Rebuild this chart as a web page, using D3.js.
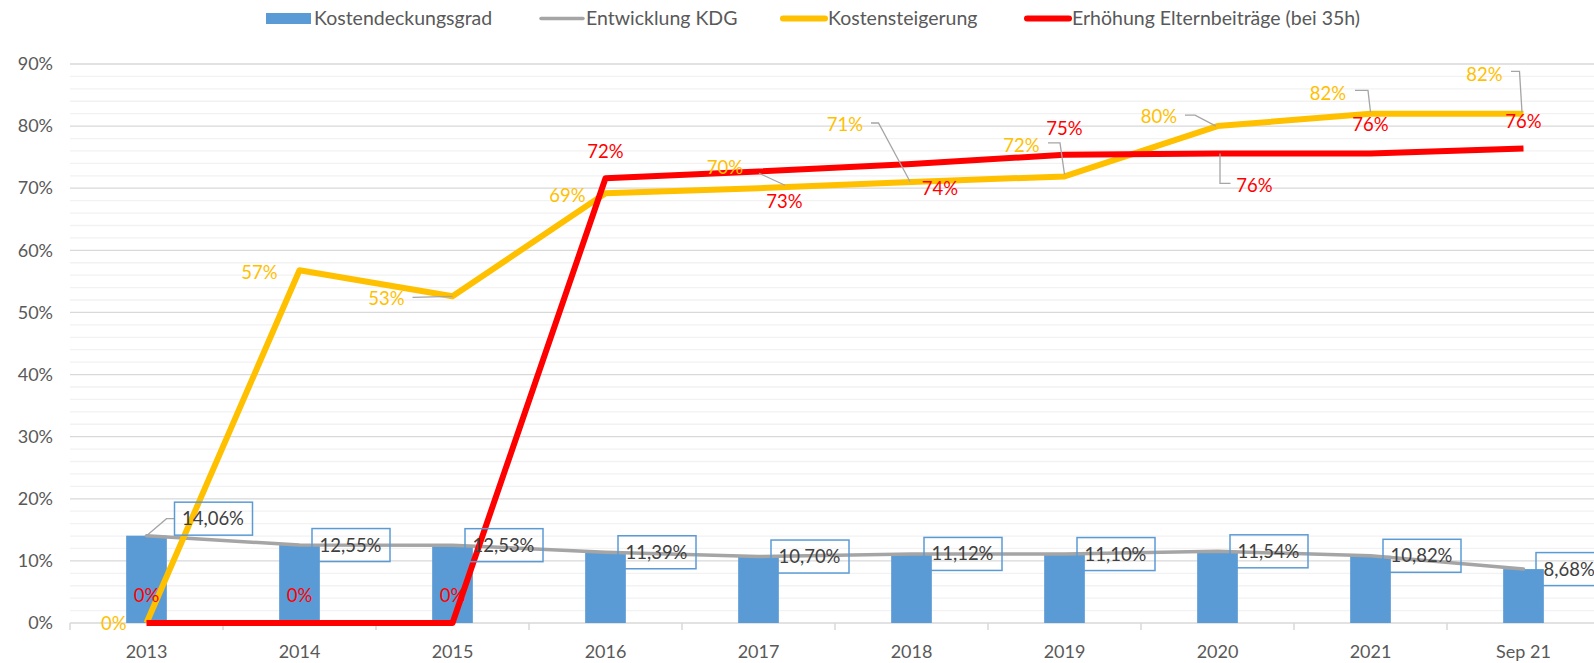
<!DOCTYPE html>
<meta charset="utf-8">
<script src="https://d3js.org/d3.v7.min.js"></script>
<style>
  body { margin: 0; background: #fff; }
  text { font-family: Lato, "Open Sans", sans-serif; }
</style>
<div id="chart"></div>
<script>
// Data
var categories = ["2013", "2014", "2015", "2016", "2017", "2018", "2019", "2020", "2021", "Sep 21"];
var kostendeckungsgrad = [14.06, 12.55, 12.53, 11.39, 10.70, 11.12, 11.10, 11.54, 10.82, 8.68];
var kostensteigerung = [0, 56.8, 52.6, 69.2, 70.0, 71.0, 71.9, 80.0, 82.0, 82.0];
var elternbeitraege = [0, 0, 0, 71.6, 72.7, 73.9, 75.4, 75.6, 75.6, 76.4];
var yTicks = [0, 10, 20, 30, 40, 50, 60, 70, 80, 90];
var seriesNames = ["Kostendeckungsgrad", "Entwicklung KDG", "Kostensteigerung", "Erhöhung Elternbeiträge (bei 35h)"];

// label placement (offsets from the point, px)
var yellowLabelPos = [
  {dx: -20, dy: 1}, {dx: -22, dy: 2}, {dx: -48, dy: 2, leader: [[-40, 1], [0, 0]]},
  {dx: -20, dy: 2}, {dx: -15.5, dy: -21, leader: [[0.5, -15], [26.5, -3]]},
  {dx: -48.5, dy: -57, leader: [[-40.5, -59], [-33, -59], [-1.5, -0.5]]},
  {dx: -25, dy: -31, leader: [[-16.5, -33.5], [-4.5, -33.5], [0, -2]]},
  {dx: -40.5, dy: -9.5, leader: [[-32.5, -11], [-22.5, -11], [-1.5, 0]]},
  {dx: -24.5, dy: -20.6, leader: [[-15.5, -23.3], [-2.5, -23.3], [0, -1.6]]},
  {dx: -21, dy: -39.3, leader: [[-12.5, -42.3], [-4, -42.3], [-1.5, -1.6]]}
];
var redLabelPos = [
  {dx: 0, dy: -27}, {dx: 0, dy: -27}, {dx: 0, dy: -27}, {dx: 0, dy: -27},
  {dx: 26, dy: 30.4}, {dx: 28.5, dy: 25}, {dx: 0, dy: -26},
  {dx: 37, dy: 31.7, leader: [[2.5, 0], [2.5, 30], [13, 30]]},
  {dx: 0, dy: -29}, {dx: 0, dy: -27}
];

var width = 1594, height = 663;
var blue = "#5B9BD5", gray = "#A5A5A5", yellow = "#FFC000", red = "#FF0000";

var svg = d3.select("#chart").append("svg")
  .attr("width", width)
  .attr("height", height);

var x = d3.scaleBand().domain(categories).range([70, 1600]).padding(0);
var y = d3.scaleLinear().domain([0, 90]).range([623, 64]);
var cx = function(i) { return x(categories[i]) + x.bandwidth() / 2; };

// Gridlines: minor every 2%, major every 10%
svg.append("g").selectAll("line")
  .data(d3.range(0, 91, 2).filter(function(v) { return v % 10 != 0; }))
  .join("line")
  .attr("x1", 70).attr("x2", width)
  .attr("y1", function(d) { return y(d); }).attr("y2", function(d) { return y(d); })
  .attr("stroke", "#F2F2F2").attr("stroke-width", 1.3);
svg.append("g").selectAll("line")
  .data(yTicks.slice(1))
  .join("line")
  .attr("x1", 70).attr("x2", width)
  .attr("y1", function(d) { return y(d); }).attr("y2", function(d) { return y(d); })
  .attr("stroke", "#D9D9D9").attr("stroke-width", 1.3);

// Y axis labels
var yAxis = svg.append("g")
  .attr("transform", "translate(53,0)")
  .call(d3.axisLeft(y).tickValues(yTicks).tickSize(0).tickPadding(0).tickFormat(function(d) { return d + "%"; }));
yAxis.select(".domain").remove();
yAxis.selectAll("text").attr("font-size", 18).attr("fill", "#595959").attr("font-family", "Lato");

// X axis
svg.append("line")
  .attr("x1", 70).attr("x2", width)
  .attr("y1", y(0)).attr("y2", y(0))
  .attr("stroke", "#D9D9D9").attr("stroke-width", 1.5);
svg.append("g").selectAll("line")
  .data(categories)
  .join("line")
  .attr("x1", function(d) { return x(d); }).attr("x2", function(d) { return x(d); })
  .attr("y1", y(0)).attr("y2", y(0) + 7)
  .attr("stroke", "#D9D9D9").attr("stroke-width", 1.5);
var xAxis = svg.append("g")
  .attr("transform", "translate(0," + y(0) + ")")
  .call(d3.axisBottom(x).tickSize(0).tickPadding(22));
xAxis.select(".domain").remove();
xAxis.selectAll("text").attr("font-size", 18).attr("fill", "#595959").attr("font-family", "Lato");

// Bars
var barW = x.bandwidth() * 0.266;
svg.append("g").selectAll("rect")
  .data(kostendeckungsgrad)
  .join("rect")
  .attr("x", function(d, i) { return cx(i) - barW / 2; })
  .attr("width", barW)
  .attr("y", function(d) { return y(d); })
  .attr("height", function(d) { return y(0) - y(d); })
  .attr("fill", blue);

// Lines
function drawLine(values, color, w, cap) {
  svg.append("path")
    .datum(values)
    .attr("fill", "none")
    .attr("stroke", color)
    .attr("stroke-width", w)
    .attr("stroke-linejoin", "round")
    .attr("stroke-linecap", cap)
    .attr("d", d3.line()
      .x(function(d, i) { return cx(i); })
      .y(function(d) { return y(d); }));
}
drawLine(kostendeckungsgrad, gray, 3.5, "round");
drawLine(kostensteigerung, yellow, 6, "butt");
drawLine(elternbeitraege, red, 6, "butt");

var leaderLine = d3.line().x(function(d) { return d[0]; }).y(function(d) { return d[1]; });

// Blue boxed labels
var boxW = 78, boxH = 33;
kostendeckungsgrad.forEach(function(v, i) {
  var px = cx(i), py = y(v);
  var bx = px + 12.5, by = py - boxH / 2;
  if (i == 0) {
    bx = px + 28; by = py - 17 - boxH / 2;
    svg.append("path")
      .attr("d", leaderLine([[px, py], [px + 20, py - 17], [bx, py - 17]]))
      .attr("fill", "none").attr("stroke", gray).attr("stroke-width", 1.3);
  }
  svg.append("rect")
    .attr("x", bx).attr("y", by).attr("width", boxW).attr("height", boxH)
    .attr("fill", "none").attr("stroke", blue).attr("stroke-width", 1.5);
  svg.append("text")
    .attr("x", bx + 7.5).attr("y", by + boxH / 2)
    .attr("dy", "0.35em")
    .attr("font-size", 18.5).attr("fill", "#404040")
    .text(v.toFixed(2).replace(".", ",") + "%");
});

// Yellow labels
kostensteigerung.forEach(function(v, i) {
  var p = yellowLabelPos[i], px = cx(i), py = y(v);
  if (p.leader) {
    svg.append("path")
      .attr("d", leaderLine(p.leader.map(function(q) { return [px + q[0], py + q[1]]; })))
      .attr("fill", "none").attr("stroke", gray).attr("stroke-width", 1.3);
  }
  svg.append("text")
    .attr("x", px + p.dx).attr("y", py + p.dy)
    .attr("dy", "0.35em").attr("text-anchor", "end")
    .attr("font-size", 18.5).attr("fill", yellow)
    .text(Math.round(v) + "%");
});

// Red labels
elternbeitraege.forEach(function(v, i) {
  var p = redLabelPos[i], px = cx(i), py = y(v);
  if (p.leader) {
    svg.append("path")
      .attr("d", leaderLine(p.leader.map(function(q) { return [px + q[0], py + q[1]]; })))
      .attr("fill", "none").attr("stroke", gray).attr("stroke-width", 1.3);
  }
  svg.append("text")
    .attr("x", px + p.dx).attr("y", py + p.dy)
    .attr("dy", "0.35em").attr("text-anchor", "middle")
    .attr("font-size", 18.5).attr("fill", red)
    .text(Math.round(v) + "%");
});

// Legend
var legendItems = [
  {name: seriesNames[0], color: blue, type: "rect", x: 266},
  {name: seriesNames[1], color: gray, type: "line", x: 538},
  {name: seriesNames[2], color: yellow, type: "line", x: 780},
  {name: seriesNames[3], color: red, type: "line", x: 1024}
];
var legend = svg.append("g");
legendItems.forEach(function(d) {
  if (d.type == "rect") {
    legend.append("rect").attr("x", d.x).attr("y", 13).attr("width", 45).attr("height", 11).attr("fill", d.color);
  } else {
    legend.append("line")
      .attr("x1", d.x + 3).attr("x2", d.x + 45)
      .attr("y1", 18.5).attr("y2", 18.5)
      .attr("stroke", d.color)
      .attr("stroke-width", d.color == gray ? 3.5 : 6)
      .attr("stroke-linecap", "round");
  }
  legend.append("text")
    .attr("x", d.x + 48).attr("y", 18.5).attr("dy", "0.35em")
    .attr("font-size", 19.5).attr("fill", "#595959")
    .text(d.name);
});
</script>
